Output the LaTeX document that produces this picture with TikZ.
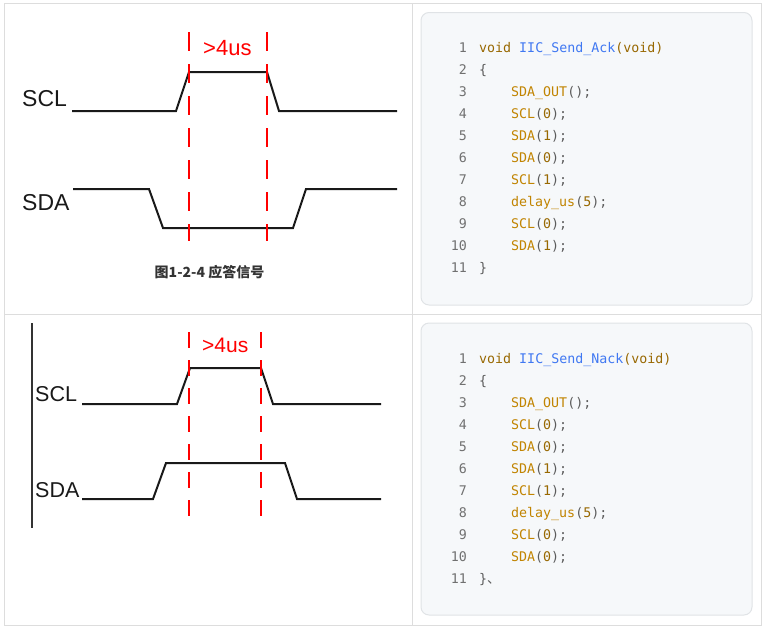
\documentclass[tikz,border=0pt]{standalone}
\usepackage{fontspec}
\setmainfont{Liberation Sans}
\newfontfamily\codefont{DejaVu Sans Mono}
\newfontfamily\cjk{Noto Sans CJK SC}
\usepackage{xcolor}
\usetikzlibrary{positioning, calc}

\definecolor{gridgray}{HTML}{DDDDDD}
\definecolor{panelborder}{HTML}{E0E3E6}
\definecolor{panelfill}{HTML}{F6F8FA}
\definecolor{kwbrown}{HTML}{986801}
\definecolor{fnblue}{HTML}{4078F2}
\definecolor{callgold}{HTML}{C18401}
\definecolor{punctgray}{HTML}{5C5C5C}
\definecolor{numgray}{HTML}{707070}

\newcommand{\callarg}[2]{\textcolor{callgold}{#1}(\textcolor{kwbrown}{#2});}

\begin{document}
\begin{tikzpicture}[x=1pt, y=-1pt,
  grid/.style={draw=gridgray, line width=1pt},
  panel/.style={draw=panelborder, fill=panelfill, rounded corners=8pt, line width=1pt},
  wave/.style={line width=2pt, draw=black!90},
  axisline/.style={line width=1.5pt, draw=black!80},
  marker/.style={draw=red, line width=2pt},
  siglabel/.style={inner sep=0pt, anchor=base west, text=black!90},
  timelabel/.style={inner sep=0pt, anchor=base west, text=red},
  caption/.style={inner sep=0pt, anchor=base, text=black!80, font=\cjk\bfseries\fontsize{14}{14}\selectfont},
  lnum/.style={inner sep=0pt, anchor=base east, text=numgray, font=\codefont\fontsize{13.3}{16}\selectfont},
  code/.style={inner sep=0pt, anchor=base west, text=punctgray, font=\codefont\fontsize{13.3}{16}\selectfont}
]
    \useasboundingbox (0,0) rectangle (764,630);

    % Table grid
    \draw[grid] (4,3) rectangle (761,625);
    \draw[grid] (412,3) -- (412,625);
    \draw[grid] (4,314) -- (761,314);

    % Code panels
    \draw[panel] (421,12.5) rectangle (752,305);
    \draw[panel] (421,323) rectangle (752,615);

    % Ack waveform
    \draw[wave] (72,111) -- (176,111) -- (189,72) -- (267,72) -- (279,111) -- (397,111);
    \draw[wave] (73,189) -- (149,189) -- (163,228) -- (293,228) -- (306,189) -- (397,189);
    \draw[marker, dash pattern=on 19pt off 13pt] (189,32) -- (189,241);
    \draw[marker, dash pattern=on 19pt off 13pt] (267,32) -- (267,241);
    \node[siglabel, font=\fontsize{23}{23}\selectfont] (scl1) at (22,106.7) {SCL};
    \node[siglabel, font=\fontsize{23}{23}\selectfont] (sda1) at (22,210) {SDA};
    \node[timelabel, font=\fontsize{22}{22}\selectfont] (t1) at (203,55) {>4us};
    \node[caption] (cap1) at (209.5,277) {图1-2-4 应答信号};

    % Nack waveform
    \draw[axisline] (32,323) -- (32,528);
    \draw[wave] (82,404) -- (177,404) -- (190,368) -- (261,368) -- (273,404) -- (381,404);
    \draw[wave] (82,499) -- (153,499) -- (166,463) -- (285,463) -- (297,499) -- (381,499);
    \draw[marker, dash pattern=on 16pt off 12pt] (189,332) -- (189,524);
    \draw[marker, dash pattern=on 16pt off 12pt] (261,332) -- (261,524);
    \node[siglabel, font=\fontsize{21.5}{21.5}\selectfont] (scl2) at (35,401) {SCL};
    \node[siglabel, font=\fontsize{21.5}{21.5}\selectfont] (sda2) at (35,497) {SDA};
    \node[timelabel, font=\fontsize{21}{21}\selectfont] (t2) at (202,352) {>4us};

    % Ack code
    \node[lnum] (a1) at (467,52.7) {1};
    \node[lnum] (a2) at (467,74.7) {2};
    \node[lnum] (a3) at (467,96.7) {3};
    \node[lnum] (a4) at (467,118.7) {4};
    \node[lnum] (a5) at (467,140.7) {5};
    \node[lnum] (a6) at (467,162.7) {6};
    \node[lnum] (a7) at (467,184.7) {7};
    \node[lnum] (a8) at (467,206.7) {8};
    \node[lnum] (a9) at (467,228.7) {9};
    \node[lnum] (a10) at (467,250.7) {10};
    \node[lnum] (a11) at (467,272.7) {11};

    \node[code] (ac1) at (479,52.7) {\textcolor{kwbrown}{void} \textcolor{fnblue}{IIC\_Send\_Ack}\textcolor{kwbrown}{(void)}};
    \node[code] (ac2) at (479,74.7) {\{};
    \node[code] (ac3) at (511,96.7) {\textcolor{callgold}{SDA\_OUT}();};
    \node[code] (ac4) at (511,118.7) {\callarg{SCL}{0}};
    \node[code] (ac5) at (511,140.7) {\callarg{SDA}{1}};
    \node[code] (ac6) at (511,162.7) {\callarg{SDA}{0}};
    \node[code] (ac7) at (511,184.7) {\callarg{SCL}{1}};
    \node[code] (ac8) at (511,206.7) {\callarg{delay\_us}{5}};
    \node[code] (ac9) at (511,228.7) {\callarg{SCL}{0}};
    \node[code] (ac10) at (511,250.7) {\callarg{SDA}{1}};
    \node[code] (ac11) at (479,272.7) {\}};

    % Nack code
    \node[lnum] (b1) at (467,363.3) {1};
    \node[lnum] (b2) at (467,385.3) {2};
    \node[lnum] (b3) at (467,407.3) {3};
    \node[lnum] (b4) at (467,429.3) {4};
    \node[lnum] (b5) at (467,451.3) {5};
    \node[lnum] (b6) at (467,473.3) {6};
    \node[lnum] (b7) at (467,495.3) {7};
    \node[lnum] (b8) at (467,517.3) {8};
    \node[lnum] (b9) at (467,539.3) {9};
    \node[lnum] (b10) at (467,561.3) {10};
    \node[lnum] (b11) at (467,583.3) {11};

    \node[code] (bc1) at (479,363.3) {\textcolor{kwbrown}{void} \textcolor{fnblue}{IIC\_Send\_Nack}\textcolor{kwbrown}{(void)}};
    \node[code] (bc2) at (479,385.3) {\{};
    \node[code] (bc3) at (511,407.3) {\textcolor{callgold}{SDA\_OUT}();};
    \node[code] (bc4) at (511,429.3) {\callarg{SCL}{0}};
    \node[code] (bc5) at (511,451.3) {\callarg{SDA}{0}};
    \node[code] (bc6) at (511,473.3) {\callarg{SDA}{1}};
    \node[code] (bc7) at (511,495.3) {\callarg{SCL}{1}};
    \node[code] (bc8) at (511,517.3) {\callarg{delay\_us}{5}};
    \node[code] (bc9) at (511,539.3) {\callarg{SCL}{0}};
    \node[code] (bc10) at (511,561.3) {\callarg{SDA}{0}};
    \node[code] (bc11) at (479,583.3) {\}{\cjk 、}};

\end{tikzpicture}
\end{document}
